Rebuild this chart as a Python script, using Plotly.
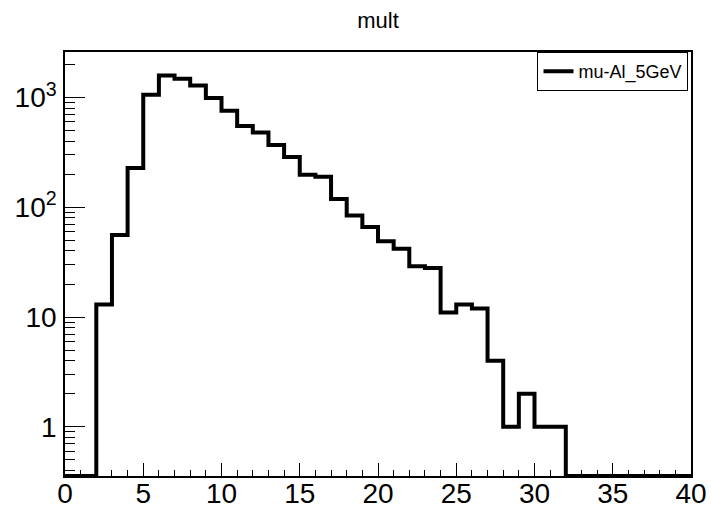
import numpy as np
import plotly.graph_objects as go

# ---- data ----
bin_edges = list(range(0, 41))
counts = [0, 0, 13, 56, 228, 1060, 1590, 1480, 1290, 990,
          760, 550, 480, 370, 287, 198, 190, 119, 84, 66,
          49, 42, 29, 28, 11, 13, 12, 4, 1, 2,
          1, 1, 0, 0, 0, 0, 0, 0, 0, 0]
series_name = "mu-Al_5GeV"
title_text = "mult"
y_major_vals = [1, 10, 100, 1000]
y_major_text = ["1", "10", "10<sup>2</sup>", "10<sup>3</sup>"]
x_tick_vals = [0, 5, 10, 15, 20, 25, 30, 35, 40]

# ---- axis ranges (log10) ----
y_log_range = [-0.448, 3.415]
floor_val = 10 ** y_log_range[0]

plot_counts = [c if c > 0 else floor_val for c in counts]
x_step = bin_edges
y_step = plot_counts + [plot_counts[-1]]

minor_vals = []
for n in range(-1, 4):
    for k in range(2, 10):
        v = k * 10 ** n
        if 10 ** y_log_range[0] <= v <= 10 ** y_log_range[1]:
            minor_vals.append(v)

fig = go.Figure()
fig.add_trace(go.Scatter(
    x=x_step, y=y_step, mode="lines", line_shape="hv",
    line=dict(color="black", width=4), name=series_name,
    showlegend=True, cliponaxis=True,
))

fig.update_layout(
    width=711, height=510,
    margin=dict(l=65, r=19.5, t=52, b=34),
    paper_bgcolor="white", plot_bgcolor="white",
    font=dict(family="Liberation Sans, Arial, sans-serif", color="black"),
    title=dict(text=title_text, xref="paper", x=0.5, xanchor="center",
               yref="container", y=0.961, yanchor="middle",
               font=dict(size=22)),
    showlegend=True,
    legend=dict(x=0.996, xanchor="right", y=1.0, yanchor="top",
                bgcolor="white", bordercolor="black", borderwidth=1,
                font=dict(size=18), itemwidth=30,
                tracegroupgap=0),
)

fig.update_xaxes(
    range=[0, 40], showgrid=False, zeroline=False, automargin=False,
    showline=True, linecolor="black", linewidth=1.5, mirror=True,
    tickmode="array", tickvals=x_tick_vals,
    ticks="inside", ticklen=13, tickwidth=1, tickcolor="black",
    tickfont=dict(size=28), ticklabelstandoff=-8,
    minor=dict(dtick=1, tick0=0, ticks="inside", ticklen=6, tickwidth=1, tickcolor="black"),
)
fig.update_yaxes(
    type="log", range=y_log_range, showgrid=False, zeroline=False, automargin=False,
    showline=True, linecolor="black", linewidth=1.5, mirror=True,
    tickmode="array", tickvals=y_major_vals, ticktext=y_major_text,
    ticks="inside", ticklen=20, tickwidth=1, tickcolor="black",
    tickfont=dict(size=28), ticklabelstandoff=1,
    minor=dict(tickmode="array", tickvals=minor_vals, ticks="inside", ticklen=10,
               tickwidth=1, tickcolor="black"),
)

fig.write_html("out.html")
